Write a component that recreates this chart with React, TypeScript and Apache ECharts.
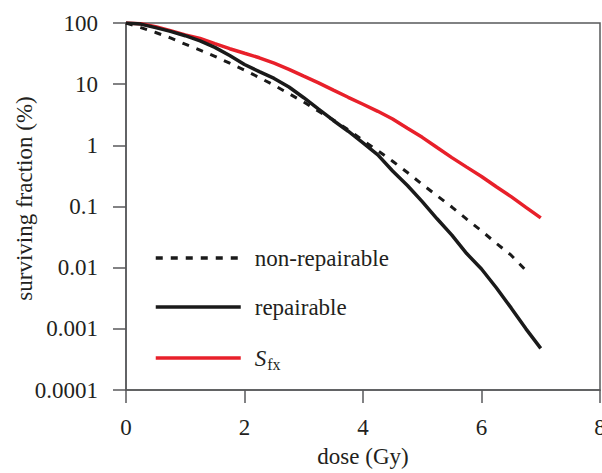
import React, { useEffect, useRef } from "react";
import * as echarts from "echarts";

const doses = [0, 0.25, 0.5, 0.75, 1.0, 1.25, 1.5, 1.75, 2.0, 2.25, 2.5, 2.75, 3.0, 3.25, 3.5, 3.75, 4.0, 4.25, 4.5, 4.75, 5.0, 5.25, 5.5, 5.75, 6.0, 6.25, 6.5, 6.75, 7.0];

const nonRepairable = [100, 84, 70, 57, 45, 36, 28.5, 22, 17, 12.8, 9.6, 7.0, 5.1, 3.6, 2.6, 1.8, 1.2, 0.82, 0.55, 0.36, 0.23, 0.15, 0.098, 0.062, 0.04, 0.025, 0.016, 0.009, null];

const repairable = [100, 96, 84, 73, 62, 51, 40, 29.5, 21, 16, 12.4, 9.0, 6.0, 3.9, 2.55, 1.7, 1.1, 0.7, 0.38, 0.22, 0.12, 0.063, 0.034, 0.017, 0.0095, 0.0047, 0.0022, 0.001, 0.00048];

const sfx = [100, 97, 87, 75, 64, 56, 46, 38, 32, 27, 22, 17.5, 13.5, 10.5, 8.0, 6.1, 4.7, 3.6, 2.7, 1.9, 1.35, 0.92, 0.63, 0.44, 0.31, 0.21, 0.145, 0.097, 0.065];

const yTickLabels = ["0.0001", "0.001", "0.01", "0.1", "1", "10", "100"];
const xTickLabels = ["0", "2", "4", "6", "8"];

const seriesNames = ["non-repairable", "repairable", "Sfx"];

const FONT = "'Liberation Serif', 'Times New Roman', serif";
const FS = 23;
const TEXT = "#231f20";
const AXIS = "#58595b";

function pairs(vals: (number | null)[]) {
  const out: [number, number][] = [];
  vals.forEach((v, i) => {
    if (v !== null) out.push([doses[i], v]);
  });
  return out;
}

export default function App() {
  const ref = useRef<HTMLDivElement>(null);
  useEffect(() => {
    if (!ref.current) return;
    const chart = echarts.init(ref.current, undefined, { renderer: "svg" });
    chart.setOption({
      animation: false,
      backgroundColor: "#ffffff",
      grid: {
        left: 126,
        top: 23,
        right: 2,
        bottom: 83,
        containLabel: false,
        outerBoundsMode: "none",
        show: true,
        borderColor: AXIS,
        borderWidth: 1.5,
      },
      legend: {
        orient: "vertical",
        left: 154,
        top: 246,
        padding: 0,
        itemWidth: 85,
        itemHeight: 14,
        itemGap: 25,
        data: seriesNames,
        itemStyle: { color: "transparent", opacity: 0, borderWidth: 0 },
        lineStyle: { width: 3.5 },
        textStyle: {
          fontFamily: FONT,
          fontSize: FS,
          color: TEXT,
          lineHeight: 24,
          padding: [0, 0, 0, 9],
          rich: {
            it: { fontFamily: FONT, fontSize: FS, fontStyle: "italic", color: TEXT, lineHeight: 24 },
            sub: { fontFamily: FONT, fontSize: 16, color: TEXT, padding: [12, 0, 0, 1], lineHeight: 24 },
          },
        },
        formatter: (name: string) => (name === "Sfx" ? "{it|S}{sub|fx}" : name),
      },
      xAxis: {
        type: "value",
        min: 0,
        max: 8,
        interval: 2,
        name: "dose (Gy)",
        nameLocation: "middle",
        nameGap: 55,
        nameMoveOverlap: false,
        nameTextStyle: { fontFamily: FONT, fontSize: FS, color: TEXT },
        axisLine: { show: true, lineStyle: { color: AXIS, width: 1.5 } },
        axisTick: { show: true, length: 13, lineStyle: { color: AXIS, width: 1.5 } },
        axisLabel: {
          margin: 26,
          fontFamily: FONT,
          fontSize: FS,
          color: TEXT,
          formatter: (v: number) => xTickLabels[Math.round(v / 2)] ?? String(v),
        },
        splitLine: { show: false },
      },
      yAxis: {
        type: "log",
        logBase: 10,
        min: 0.0001,
        max: 100,
        splitNumber: 6,
        name: "surviving fraction (%)",
        nameLocation: "middle",
        nameGap: 90,
        nameMoveOverlap: false,
        nameTextStyle: { fontFamily: FONT, fontSize: FS, color: TEXT, padding: [0, 0, 0, 16] },
        axisLine: { show: true, lineStyle: { color: AXIS, width: 1.5 } },
        axisTick: { show: true, length: 13, lineStyle: { color: AXIS, width: 1.5 } },
        axisLabel: {
          margin: 28,
          fontFamily: FONT,
          fontSize: FS,
          color: TEXT,
          formatter: (v: number) => yTickLabels[Math.round(Math.log10(v)) + 4] ?? String(v),
        },
        splitLine: { show: false },
      },
      series: [
        {
          name: seriesNames[0],
          type: "line",
          data: pairs(nonRepairable),
          symbol: "none",
          showSymbol: false,
          lineStyle: { color: "#1a1a1a", width: 3, type: [7, 8] },
          itemStyle: { color: "#1a1a1a" },
          z: 3,
        },
        {
          name: seriesNames[1],
          type: "line",
          data: pairs(repairable),
          symbol: "none",
          showSymbol: false,
          lineStyle: { color: "#1a1a1a", width: 3.5 },
          itemStyle: { color: "#1a1a1a" },
          z: 4,
        },
        {
          name: seriesNames[2],
          type: "line",
          data: pairs(sfx),
          symbol: "none",
          showSymbol: false,
          lineStyle: { color: "#e8202a", width: 3.5 },
          itemStyle: { color: "#e8202a" },
          z: 2,
        },
      ],
    });
    return () => chart.dispose();
  }, []);
  return (
    <div
      ref={ref}
      style={{ position: "fixed", left: 0, top: 0, width: 602, height: 473, background: "#fff" }}
    />
  );
}
